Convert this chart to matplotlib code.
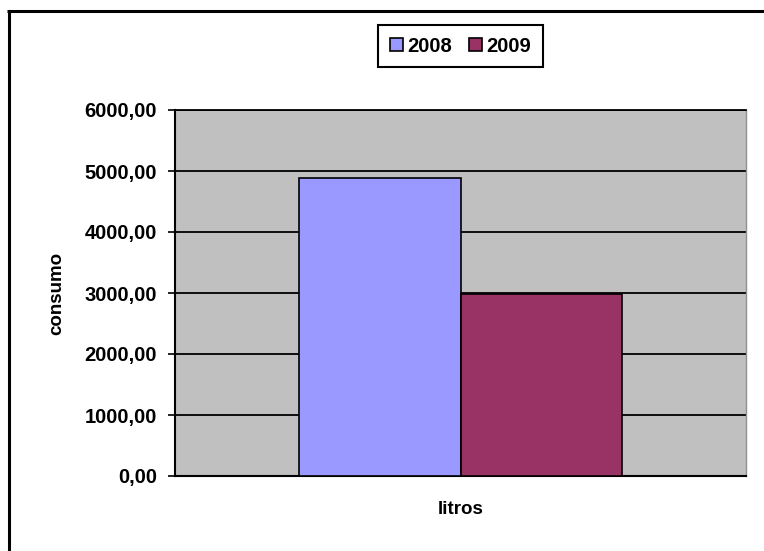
import matplotlib
matplotlib.use("Agg")
import matplotlib.pyplot as plt
from matplotlib.lines import Line2D
from matplotlib.ticker import FuncFormatter

categories = ["litros"]
series_names = ["2008", "2009"]
values_2008 = [4880.0]
values_2009 = [2980.0]
y_ticks = [0, 1000, 2000, 3000, 4000, 5000, 6000]

colors = ["#9999FF", "#993366"]

plt.rcParams['font.family'] = ['Liberation Sans', 'DejaVu Sans']
plt.rcParams['font.weight'] = 'bold'

fig = plt.figure(figsize=(7.64, 5.51), dpi=100)
fig.patch.set_facecolor("white")

# outer chart border: only left and top visible, like the reference
bx, by = 8.5 / 764, 1 - 10.5 / 551
fig.lines.append(Line2D([bx, bx], [0.0, by], transform=fig.transFigure,
                        color="black", linewidth=2.2, solid_capstyle="butt"))
fig.lines.append(Line2D([bx - 1.1 / 764, 1.0], [by, by], transform=fig.transFigure,
                        color="black", linewidth=2.2, solid_capstyle="butt"))

ax = fig.add_axes([175 / 764, 1 - 476 / 551, (746 - 175) / 764, (476 - 110) / 551])
ax.set_facecolor("#C0C0C0")

bw = 0.283
x0 = 0
b1 = ax.bar([x0 - bw / 2], values_2008, width=bw, color=colors[0],
            edgecolor="black", linewidth=1.2, label=series_names[0], zorder=3)
b2 = ax.bar([x0 + bw / 2], values_2009, width=bw, color=colors[1],
            edgecolor="black", linewidth=1.2, label=series_names[1], zorder=3)

ax.set_xlim(-0.5, 0.5)
ax.set_ylim(0, 6000)
ax.set_yticks(y_ticks)
ax.yaxis.set_major_formatter(FuncFormatter(lambda v, p: f"{v:.2f}".replace(".", ",")))
ax.tick_params(axis="y", direction="out", length=5, width=1.2, color="black",
               labelsize=14.5, pad=8)
ax.set_xticks([])
ax.grid(axis="y", color="black", linewidth=1.3, zorder=1)
ax.set_axisbelow(True)

for s in ["left", "bottom"]:
    ax.spines[s].set_color("black")
    ax.spines[s].set_linewidth(1.5)
ax.spines["top"].set_color("black")
ax.spines["top"].set_linewidth(1.3)
ax.spines["right"].set_color("#909090")
ax.spines["right"].set_linewidth(1.0)

ax.set_xlabel(categories[0], fontsize=13.5, fontweight="bold", labelpad=18)
ax.set_ylabel("consumo", fontsize=13.5, fontweight="bold", labelpad=14)

leg = fig.legend(handles=[b1, b2], labels=series_names, loc="center",
                 bbox_to_anchor=(460.5 / 764, 1 - 46 / 551), ncol=2,
                 fancybox=False, edgecolor="black", framealpha=1,
                 handlelength=0.65, handleheight=0.65, handletextpad=0.25,
                 columnspacing=0.8, borderpad=0.55, fontsize=14.5)
leg.get_frame().set_linewidth(1.5)

fig.savefig("out.png", dpi=100)
